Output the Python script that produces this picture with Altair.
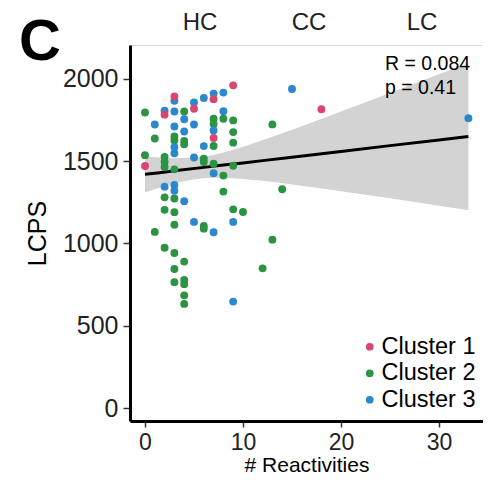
import altair as alt
import pandas as pd

# ---- data ----
c1_x = [0, 2, 3, 5, 7, 7, 9, 18]
c1_y = [1470, 1782, 1892, 1818, 1876, 1640, 1960, 1815]

c2_x = [0, 0, 1, 1, 2, 2, 2, 2, 2, 2, 3, 3, 3, 3, 3, 3, 3, 3, 3,
        4, 4, 4, 4, 4, 4, 4, 4, 6, 6, 6, 6, 7, 7, 7, 7, 8, 8, 8,
        9, 9, 9, 9, 9, 10, 12, 13, 13, 14]
c2_y = [1795, 1536, 1637, 1070, 1526, 1496, 1464, 1280, 1204, 974,
        1650, 1625, 1450, 1273, 1190, 1114, 942, 845, 765,
        1801, 1623, 1602, 890, 778, 753, 685, 633,
        1515, 1494, 1106, 1090, 1757, 1725, 1592, 1484, 1757, 1412, 1315,
        1747, 1676, 1612, 1472, 1207, 1191, 849, 1723, 1023, 1329]

c3_x = [1, 2, 2, 3, 3, 3, 3, 3, 3, 3, 4, 4, 4, 5, 5, 5, 5, 6, 6,
        7, 7, 7, 7, 8, 8, 9, 9, 15, 33]
c3_y = [1722, 1806, 1345, 1866, 1801, 1710, 1585, 1548, 1355, 1320,
        1754, 1680, 1257, 1856, 1722, 1522, 1131, 1883, 1591,
        1910, 1686, 1427, 1068, 1916, 1803, 1131, 647, 1938, 1760]

# fitted line and its confidence band
fit_x = [0, 1.5, 3, 6, 8, 10, 12, 15, 20, 25, 30, 33]
fit_y = [1420, 1430, 1441, 1462, 1476, 1489, 1503, 1524, 1559, 1594, 1628, 1649]
band_lo = [1310, 1338, 1364, 1396, 1399, 1392, 1380, 1358, 1317, 1274, 1229, 1202]
band_hi = [1530, 1522, 1518, 1528, 1553, 1587, 1626, 1690, 1801, 1914, 2027, 2096]

clusters = ["Cluster 1", "Cluster 2", "Cluster 3"]
colors = ["#DA4670", "#2A9443", "#2C87CC"]
group_labels = ["HC", "CC", "LC"]
group_label_px = [70, 179, 292]
stat_lines = ["R = 0.084", "p = 0.41"]
stat_line_px = [25, 49]
x_ticks = [0, 10, 20, 30]
y_ticks = [0, 500, 1000, 1500, 2000]

FONT = "Liberation Sans"

df = pd.DataFrame({
    "x": c2_x + c3_x + c1_x,
    "y": c2_y + c3_y + c1_y,
    "cluster": ["Cluster 2"] * len(c2_x) + ["Cluster 3"] * len(c3_x) + ["Cluster 1"] * len(c1_x),
})
df["order"] = range(len(df))
fit = pd.DataFrame({"x": fit_x, "fit": fit_y, "lo": band_lo, "hi": band_hi})

xscale = alt.Scale(domain=[-1.53, 34.49], nice=False, zero=False)
yscale = alt.Scale(domain=[-78, 2205], nice=False, zero=False)

common_axis = dict(grid=False, domainWidth=3, domainColor="black", tickColor="#333",
                   tickWidth=1.5, labelColor="#222",
                   titleColor="black", titleFontWeight="normal",
                   labelFont=FONT, titleFont=FONT)
xaxis = alt.Axis(values=x_ticks, title="# Reactivities", tickSize=6, labelPadding=4,
                 labelFontSize=23, titleFontSize=21, titlePadding=0, **common_axis)
yaxis = alt.Axis(values=y_ticks, title="LCPS", format="d", tickSize=7, labelPadding=5,
                 labelFontSize=25, titleFontSize=25, titlePadding=12, **common_axis)

band = alt.Chart(fit).mark_area(color="#D4D3D4", opacity=1, interpolate="monotone").encode(
    x=alt.X("x:Q", scale=xscale, axis=xaxis),
    y=alt.Y("lo:Q", scale=yscale, axis=yaxis),
    y2="hi:Q",
)
line = alt.Chart(fit).mark_line(color="black", strokeWidth=3).encode(
    x=alt.X("x:Q", scale=xscale),
    y=alt.Y("fit:Q", scale=yscale),
)
points = alt.Chart(df).mark_circle(size=62, opacity=1).encode(
    x=alt.X("x:Q", scale=xscale),
    y=alt.Y("y:Q", scale=yscale),
    order=alt.Order("order:Q"),
    color=alt.Color("cluster:N", scale=alt.Scale(domain=clusters, range=colors),
                    legend=alt.Legend(orient="none", legendX=228, legendY=290, title=None,
                                      labelFontSize=23.5, labelFont=FONT, labelColor="black",
                                      symbolType="circle", symbolSize=60, symbolStrokeWidth=0,
                                      rowPadding=1.5, labelOffset=0, padding=0)),
)

grp = pd.DataFrame({"label": group_labels, "px": group_label_px})
groups = alt.Chart(grp).mark_text(fontSize=24, font=FONT, color="#222", baseline="alphabetic",
                                  align="center").encode(
    text="label:N", x=alt.X("px:Q", scale=None), y=alt.value(-15))

stat = pd.DataFrame({"label": stat_lines, "py": stat_line_px})
stats = alt.Chart(stat).mark_text(fontSize=19.5, font=FONT, color="black", baseline="alphabetic",
                                  align="left").encode(
    text="label:N", x=alt.value(255), y=alt.Y("py:Q", scale=None))

panel = alt.Chart(pd.DataFrame({"t": ["C"]})).mark_text(
    fontSize=58, font=FONT, fontWeight="bold", color="black", baseline="alphabetic", align="center"
).encode(text="t:N", x=alt.value(-90), y=alt.value(15))

chart = alt.layer(band, line, points, groups, stats, panel).properties(
    width=353, height=376,
    autosize=alt.AutoSizeParams(type="none"),
    padding={"left": 122, "top": 37, "right": 0, "bottom": 53},
).configure_view(stroke=None).configure(background="white")

chart.save("out.html", embed_options={"renderer": "svg", "actions": False})
